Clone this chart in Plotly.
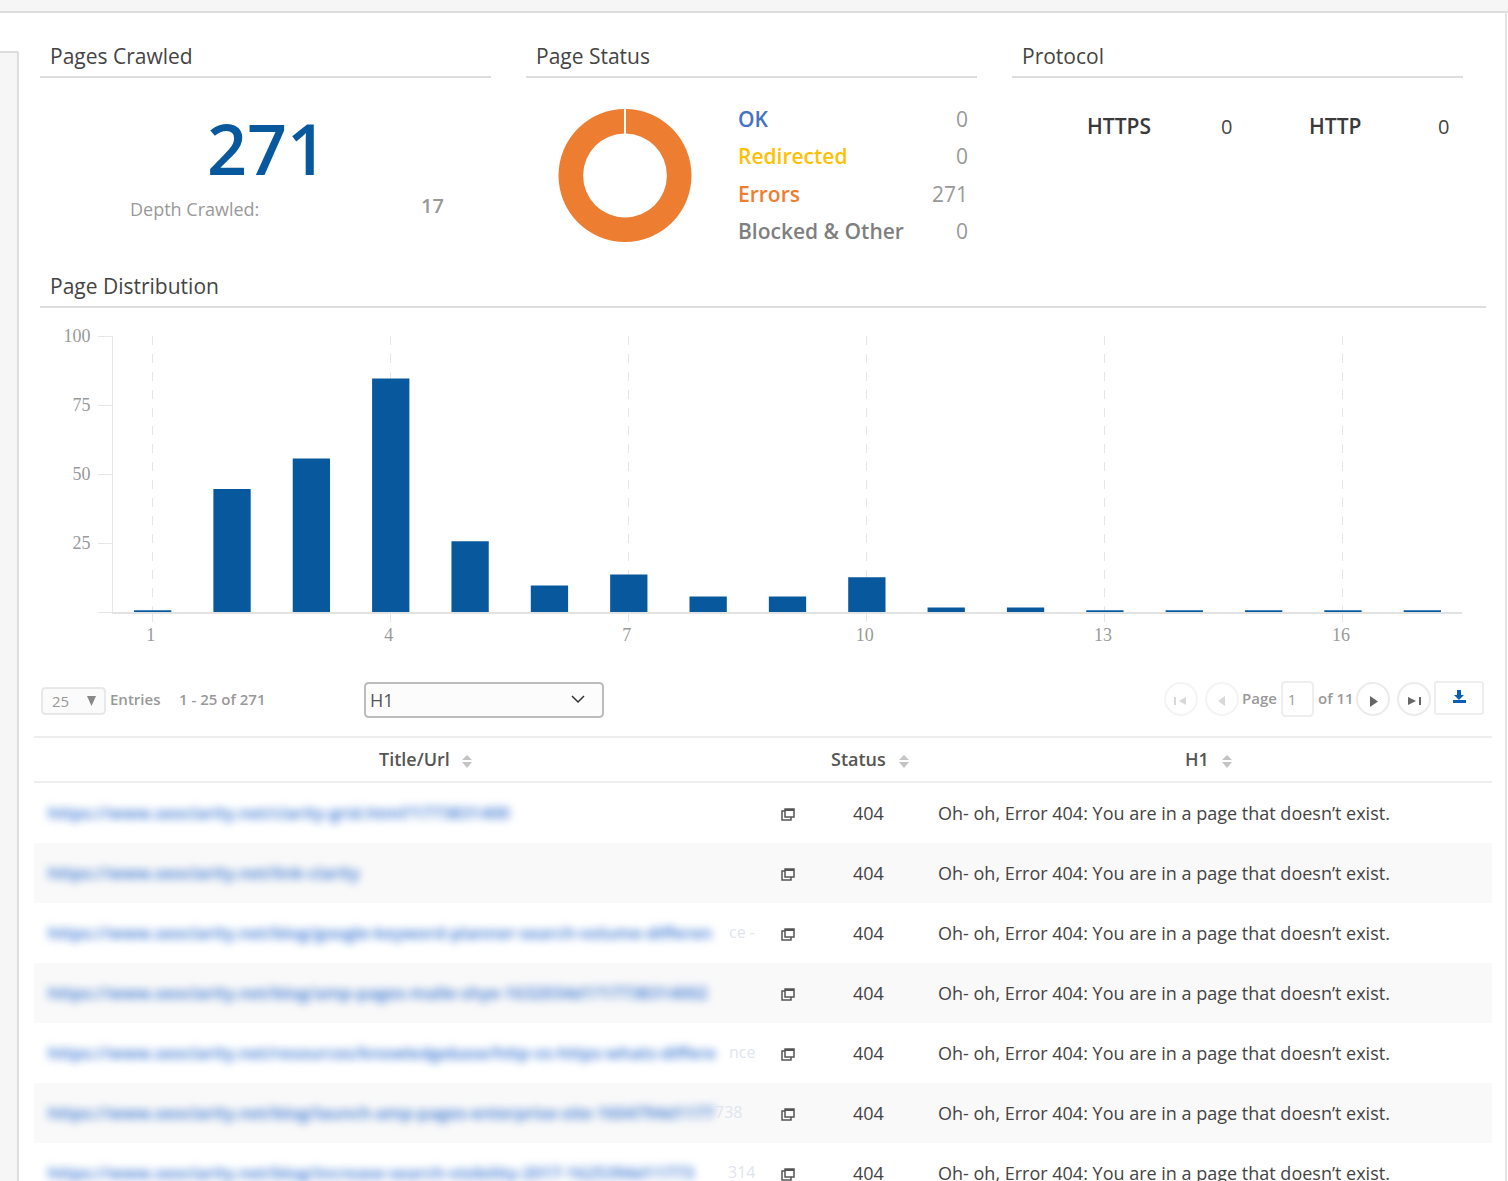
import plotly.graph_objects as go

W, H = 1508, 1181
FONT = "Open Sans"
BLUE = "#08589e"
TEXT = "#4d4d4d"
GREY = "#999999"
RULE = "#dddddd"

# page distribution
depths = list(range(1, 18))
pages = [1, 45, 56, 85, 26, 10, 14, 6, 6, 13, 2, 2, 1, 1, 1, 1, 1]
y_ticks = [0, 25, 50, 75, 100]
y_tick_labels = ["", "25", "50", "75", "100"]

# page status
status_names = ["OK", "Redirected", "Errors", "Blocked & Other"]
status_counts = [0, 0, 271, 0]
status_colors = ["#4472c4", "#ffc000", "#ed7d31", "#7f7f7f"]

# table
urls = [
    "https://www.seoclarity.net/clarity-grid.html?1773831400",
    "https://www.seoclarity.net/link-clarity",
    "https://www.seoclarity.net/blog/google-keyword-planner-search-volume-differen",
    "https://www.seoclarity.net/blog/amp-pages-malle-shye-1632034d1?17738314002",
    "https://www.seoclarity.net/resources/knowledgebase/http-vs-https-whats-differe",
    "https://www.seoclarity.net/blog/launch-amp-pages-enterprise-site-1604794d1177",
    "https://www.seoclarity.net/blog/increase-search-visibility-2017-1625394d11773",
]
url_tails = ["", "", "ce -", "", "nce", "738", "314"]
tail_right = [0, 0, 756, 0, 756, 743, 756]
row_status = ["404"] * 7
row_h1 = ["Oh- oh, Error 404: You are in a page that doesn\u2019t exist."] * 7


def fx(x):
    return x / W


def fy(y):
    return 1 - y / H


def path(points, close=False):
    d = "M " + " L ".join(f"{fx(x):.5f},{fy(y):.5f}" for x, y in points)
    return d + (" Z" if close else "")


annotations = []
shapes = []


def label(x, y, text, size=18, color=TEXT, anchor="left", weight=400):
    annotations.append(dict(
        x=fx(x), y=fy(y), xref="paper", yref="paper", text=text, showarrow=False,
        xanchor=anchor, yanchor="middle", borderpad=0,
        font=dict(family=FONT, size=size, color=color, weight=weight),
    ))


def rect(x0, y0, x1, y1, fill="rgba(0,0,0,0)", line="rgba(0,0,0,0)", width=1):
    shapes.append(dict(
        type="rect", xref="paper", yref="paper", x0=fx(x0), x1=fx(x1), y0=fy(y0), y1=fy(y1),
        fillcolor=fill, line=dict(color=line, width=width), layer="below",
    ))


def round_rect(x0, y0, x1, y1, r=4, fill="white", line="#eeeeee", width=2):
    corners = [
        ((x0 + r, y0), (x1 - r, y0), (x1, y0), (x1, y0 + r)),
        (None, (x1, y1 - r), (x1, y1), (x1 - r, y1)),
        (None, (x0 + r, y1), (x0, y1), (x0, y1 - r)),
        (None, (x0, y0 + r), (x0, y0), (x0 + r, y0)),
    ]
    d = f"M {fx(x0 + r):.5f},{fy(y0):.5f}"
    for _, a, c, b in corners:
        d += f" L {fx(a[0]):.5f},{fy(a[1]):.5f} Q {fx(c[0]):.5f},{fy(c[1]):.5f} {fx(b[0]):.5f},{fy(b[1]):.5f}"
    shapes.append(dict(
        type="path", xref="paper", yref="paper", path=d + " Z",
        fillcolor=fill, line=dict(color=line, width=width), layer="below",
    ))


def rule(x0, y0, x1, y1, color=RULE, width=1):
    shapes.append(dict(
        type="line", xref="paper", yref="paper", x0=fx(x0), x1=fx(x1), y0=fy(y0), y1=fy(y1),
        line=dict(color=color, width=width), layer="below",
    ))


def poly(points, fill="rgba(0,0,0,0)", line="rgba(0,0,0,0)", width=1, close=True):
    shapes.append(dict(
        type="path", xref="paper", yref="paper", path=path(points, close),
        fillcolor=fill, line=dict(color=line, width=width), layer="above",
    ))


def circle(cx, cy, r, line):
    shapes.append(dict(
        type="circle", xref="paper", yref="paper", x0=fx(cx - r), x1=fx(cx + r), y0=fy(cy - r), y1=fy(cy + r),
        fillcolor="white", line=dict(color=line, width=2), layer="below",
    ))


def sort_arrows(x, y):
    poly([(x - 5, y - 1), (x + 5, y - 1), (x, y - 6)], fill="#c4c4c4")
    poly([(x - 5, y + 1), (x + 5, y + 1), (x, y + 7)], fill="#c4c4c4")


def copy_icon(x, y):
    poly([(x - 3, y - 3), (x - 6, y - 3), (x - 6, y + 6), (x + 3, y + 6), (x + 3, y + 3)], line="#555555", width=1.5, close=False)
    poly([(x - 3, y - 5), (x + 6, y - 5), (x + 6, y + 3), (x - 3, y + 3)], line="#555555", width=1.5)
    rule(x - 3, y - 4, x + 6, y - 4, color="#555555", width=2)


# page frame
rect(0, 0, W, 12, fill="#f6f6f6")
rule(0, 12, W, 12, width=2)
rect(0, 52, 18, H, fill="#f6f6f6")
rule(0, 52, 18, 52, width=2)
rule(18, 52, 18, H, width=2)
rule(1506, 12, 1506, H, color="#e4e4e4", width=2)

# section headers
for text, x0, x1 in [("Pages Crawled", 40, 491), ("Page Status", 526, 977), ("Protocol", 1012, 1463)]:
    label(x0 + 9, 56, text, size=21, color="#444444")
    rule(x0, 77, x1, 77, width=2)
label(49, 286, "Page Distribution", size=21, color="#444444")
rule(40, 307, 1486, 307, width=2)

# pages crawled
label(266.5, 148, "271", size=70, color=BLUE, anchor="center", weight=600)
label(129, 209, "Depth Crawled:", size=18, color=GREY)
label(432, 206, "17", size=20, color=GREY, anchor="center", weight=600)

# page status legend
for name, count, color, y in zip(status_names, status_counts, status_colors, [119, 156, 194, 231]):
    label(737, y, name, size=21, color=color, weight=600)
    label(969, y, str(count), size=21, color=GREY, anchor="right")
shapes.append(dict(
    type="line", xref="paper", yref="paper", x0=fx(625), x1=fx(625), y0=fy(108), y1=fy(134),
    line=dict(color="white", width=2), layer="above",
))

# protocol
label(1086, 126, "HTTPS", size=21, color="#3a3a3a", weight=600)
label(1226, 126, "0", size=20, color="#444444", anchor="center")
label(1308, 126, "HTTP", size=21, color="#3a3a3a", weight=600)
label(1443, 126, "0", size=20, color="#444444", anchor="center")

# table controls
round_rect(42, 688, 105, 714, fill="#fbfbfb", line="#e8e8e8")
label(51, 701, "25", size=15, color=GREY)
poly([(87, 696), (96, 696), (91.5, 706)], fill="#888888")
label(109, 699, "Entries", size=15, color=GREY, weight=600)
label(178, 699, "1 - 25 of 271", size=15, color=GREY, weight=600)
round_rect(365, 683, 603, 717, fill="#fcfcfc", line="#bcbcbc")
label(369, 700, "H1", size=18, color="#555555")
poly([(572, 696), (578, 702), (584, 696)], line="#333333", width=1.5, close=False)

circle(1181, 699, 16, "#f4f4f4")
circle(1222, 699, 16, "#f4f4f4")
circle(1373, 699, 16, "#ececec")
circle(1414, 699, 16, "#ececec")
poly([(1186, 697), (1186, 705), (1179, 701)], fill="#d8d8d8")
rule(1175, 697, 1175, 705, color="#d8d8d8", width=2)
poly([(1225, 696), (1225, 706), (1218, 701)], fill="#d8d8d8")
poly([(1370, 696), (1370, 707), (1378, 701.5)], fill="#666666")
poly([(1408, 697), (1408, 705), (1416, 701)], fill="#666666")
rule(1420, 697, 1420, 705, color="#666666", width=2)
label(1241, 698, "Page", size=15, color=GREY, weight=600)
round_rect(1282, 682, 1313, 716)
label(1287, 699, "1", size=14, color=GREY)
label(1317, 698, "of 11", size=15, color=GREY, weight=600)
round_rect(1435, 682, 1483, 714, r=2)
poly([(1457, 690), (1461, 690), (1461, 695), (1464, 695), (1459, 700), (1454, 695), (1457, 695)], fill="#0a5fb4")
rect(1453, 700, 1466, 703, fill="#0a5fb4")

# table header
rule(34, 737, 1492, 737)
rule(34, 782, 1492, 782)
label(414, 759, "Title/Url", size=18, color="#555555", anchor="center", weight=600)
sort_arrows(467, 761)
label(858, 759, "Status", size=18, color="#555555", anchor="center", weight=600)
sort_arrows(904, 761)
label(1197, 759, "H1", size=18, color="#555555", anchor="center", weight=600)
sort_arrows(1227, 761)

# table rows
for i, (url, tail, right, status, h1) in enumerate(zip(urls, url_tails, tail_right, row_status, row_h1)):
    y = 813 + 60 * i
    if i % 2 == 1:
        rect(34, y - 30, 1492, y + 30, fill="#f9f9f9")
    label(47, y - 1, url, size=17, color="#2f6fd0", weight=600)
    if tail:
        label(right, y - 1, tail, size=16, color="#dfe5ee", anchor="right")
    copy_icon(788, y + 1)
    label(868, y - 0.5, status, size=18, color="#444444", anchor="center")
    label(937, y - 0.5, h1, size=18, color="#444444")

fig = go.Figure()
# bars sit slightly under their value in the source, base keeps the counts honest
fig.add_trace(go.Bar(
    x=depths, y=pages, width=0.47, base=-0.4,
    marker=dict(color=BLUE, line=dict(width=0)),
    showlegend=False,
))
fig.add_trace(go.Pie(
    labels=status_names, values=status_counts, hole=0.63, sort=False,
    marker=dict(colors=status_colors, line=dict(width=0)),
    textinfo="none", showlegend=False,
    domain=dict(x=[fx(558.5), fx(691.5)], y=[fy(242), fy(109)]),
))

fig.update_layout(
    width=W,
    height=H,
    margin=dict(l=0, r=0, t=0, b=0),
    paper_bgcolor="white",
    plot_bgcolor="rgba(0,0,0,0)",
    annotations=annotations,
    shapes=shapes,
    xaxis=dict(
        domain=[fx(113), fx(1462)], range=[0.5, 17.5], tick0=1, dtick=3, automargin=False,
        showgrid=True, gridcolor="#e6e6e6", griddash="dash", gridwidth=1,
        showline=True, linecolor="#e2e2e2", linewidth=1.5, zeroline=False,
        ticks="outside", ticklen=8, tickcolor="#e6e6e6",
        ticklabelshift=-2, ticklabelstandoff=-2,
        tickfont=dict(family="Liberation Serif", size=18, color=GREY),
    ),
    yaxis=dict(
        domain=[fy(612), fy(336)], range=[0, 100], automargin=False,
        tickvals=y_ticks, ticktext=y_tick_labels,
        showgrid=False, showline=True, linecolor="#e6e6e6", linewidth=1, zeroline=False,
        ticks="outside", ticklen=14, tickcolor="#e6e6e6", ticklabelstandoff=4,
        tickfont=dict(family="Liberation Serif", size=18, color=GREY),
    ),
)

# body margin off, and the urls are blurred in the source screenshot
post_script = """
document.body.style.margin = '0';
document.body.style.overflow = 'hidden';
document.querySelectorAll('.annotation-text').forEach(function (el) {
    if (el.textContent.startsWith('https://')) { el.style.filter = 'blur(4px)'; }
});
"""
fig.write_html("out.html", post_script=post_script, config=dict(displayModeBar=False))
